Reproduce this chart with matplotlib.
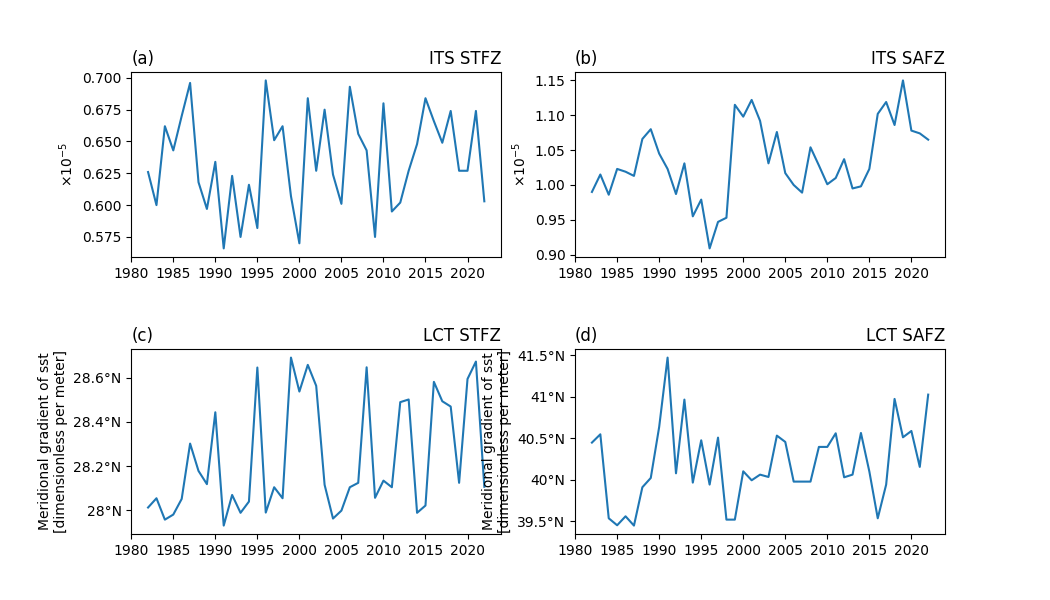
import numpy as np
import matplotlib
matplotlib.use("Agg")
import matplotlib.pyplot as plt
from matplotlib.ticker import FuncFormatter

years = np.arange(1982, 2023)

# ITS = intensity of the fronts, LCT = location (latitude)
its_stfz = [0.626, 0.600, 0.662, 0.643, 0.670, 0.696, 0.618, 0.597, 0.634, 0.566,
            0.623, 0.575, 0.616, 0.582, 0.698, 0.651, 0.662, 0.607, 0.570, 0.684,
            0.627, 0.675, 0.624, 0.601, 0.693, 0.656, 0.643, 0.575, 0.680, 0.595,
            0.602, 0.627, 0.648, 0.684, 0.666, 0.649, 0.674, 0.627, 0.627, 0.674,
            0.603]
its_safz = [0.990, 1.015, 0.986, 1.023, 1.019, 1.013, 1.066, 1.080, 1.045, 1.023,
            0.987, 1.031, 0.955, 0.979, 0.909, 0.947, 0.953, 1.115, 1.098, 1.122,
            1.092, 1.031, 1.076, 1.017, 1.000, 0.989, 1.054, 1.028, 1.001, 1.010,
            1.037, 0.995, 0.998, 1.023, 1.102, 1.119, 1.086, 1.150, 1.078, 1.074,
            1.065]
lct_stfz = [28.012, 28.054, 27.957, 27.980, 28.051, 28.302, 28.178, 28.118, 28.444, 27.930,
            28.069, 27.988, 28.039, 28.647, 27.989, 28.104, 28.054, 28.692, 28.538, 28.659,
            28.564, 28.115, 27.962, 27.998, 28.104, 28.124, 28.648, 28.056, 28.134, 28.104,
            28.490, 28.502, 27.988, 28.021, 28.582, 28.494, 28.470, 28.124, 28.595, 28.674,
            28.106]
lct_safz = [40.448, 40.548, 39.536, 39.452, 39.560, 39.448, 39.910, 40.022, 40.637, 41.472,
            40.078, 40.966, 39.966, 40.476, 39.942, 40.508, 39.520, 39.520, 40.102, 39.994,
            40.062, 40.034, 40.532, 40.456, 39.978, 39.978, 39.978, 40.396, 40.396, 40.560,
            40.030, 40.062, 40.564, 40.100, 39.536, 39.942, 40.974, 40.512, 40.588, 40.155,
            41.026]

series = [its_stfz, its_safz, lct_stfz, lct_safz]
letters = ["(a)", "(b)", "(c)", "(d)"]
names = ["ITS STFZ", "ITS SAFZ", "LCT STFZ", "LCT SAFZ"]


def lat_fmt(v, pos):
    return f"{v:g}°N"


fig, axes = plt.subplots(2, 2, figsize=(10.5, 6), dpi=100)
fig.subplots_adjust(hspace=0.5)

for i, ax in enumerate(axes.flat):
    ax.plot(years, series[i], color="#1f77b4")
    ax.set_title(letters[i], loc="left")
    ax.set_title(names[i], loc="right")
    ax.set_xticks(np.arange(1980, 2021, 5))
    if i < 2:
        ax.set_ylabel("×10$^{-5}$")
    else:
        ax.yaxis.set_major_formatter(FuncFormatter(lat_fmt))
        ax.set_ylabel("Meridional gradient of sst\n[dimensionless per meter]")

axes[0, 0].set_yticks([0.575, 0.600, 0.625, 0.650, 0.675, 0.700])
axes[1, 1].set_yticks([39.5, 40, 40.5, 41, 41.5])

fig.savefig("out.png")
